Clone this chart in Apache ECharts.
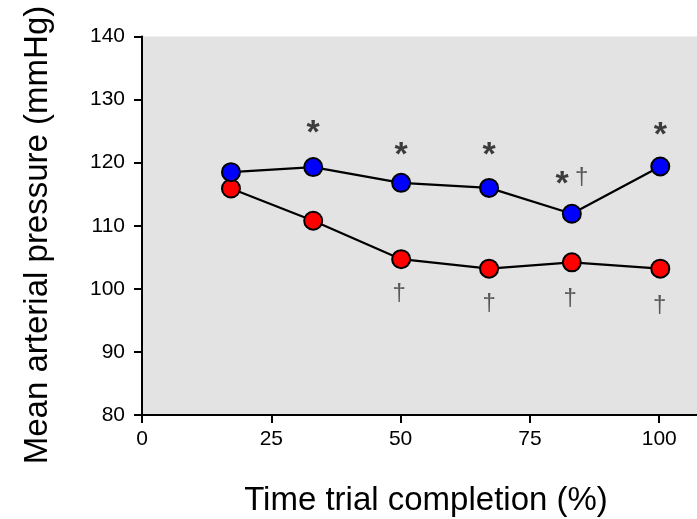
<!DOCTYPE html>
<html>
<head>
<meta charset="utf-8">
<script src="https://cdn.jsdelivr.net/npm/echarts@6/dist/echarts.min.js"></script>
<style>html,body{margin:0;padding:0;background:#fff}#c{width:697px;height:519px}</style>
</head>
<body>
<div id="c"></div>
<script>
// Data
var timePct = [17.2, 33.1, 50.1, 67.1, 83.1, 100.2];
var blueMAP = [118.5, 119.3, 116.8, 116.0, 111.9, 119.4];
var redMAP  = [115.9, 110.8, 104.7, 103.2, 104.2, 103.2];
var xTicks = [0, 25, 50, 75, 100];
var yTicks = [80, 90, 100, 110, 120, 130, 140];
// Significance annotations [x, y, symbol]
var starMarks = [[33.1, 125.5, '*'], [50.1, 122.0, '*'], [67.1, 122.0, '*'], [81.2, 117.4, '*'], [100.2, 125.2, '*']];
var daggerMarks = [[85.0, 117.7, '†'], [49.7, 99.3, '†'], [67.1, 97.7, '†'], [82.8, 98.5, '†'], [100.1, 97.4, '†']];

var chart = echarts.init(document.getElementById('c'));
var font = 'Liberation Sans, Arial, sans-serif';
function pairs(xs, ys){ return xs.map(function(x,i){ return [x, ys[i]]; }); }

chart.setOption({
  animation: false,
  grid: { left: 142, top: 36.5, right: 0, bottom: 104, show: true, backgroundColor: '#e3e3e3', borderWidth: 0 },
  xAxis: {
    type: 'value', min: 0, max: 107.3,
    axisLine: { show: true, lineStyle: { color: '#000', width: 2 } },
    axisTick: { show: true, length: 8, inside: false, lineStyle: { color: '#000', width: 2 }, customValues: xTicks },
    axisLabel: { color: '#000', fontSize: 21, fontFamily: font, margin: 14, customValues: xTicks },
    splitLine: { show: false }
  },
  yAxis: {
    type: 'value', min: 80, max: 140, interval: 10,
    axisLine: { show: true, lineStyle: { color: '#000', width: 2 } },
    axisTick: { show: true, length: 8, lineStyle: { color: '#000', width: 2 }, customValues: yTicks },
    axisLabel: { color: '#000', fontSize: 21, fontFamily: font, margin: 17, customValues: yTicks },
    splitLine: { show: false }
  },
  graphic: [
    { type: 'text', x: 38, y: 235, rotation: Math.PI/2, style: { text: 'Mean arterial pressure (mmHg)', fontSize: 33, fontFamily: font, fill: '#000', align: 'center', verticalAlign: 'middle' } },
    { type: 'text', x: 426, y: 501, style: { text: 'Time trial completion (%)', fontSize: 33, fontFamily: font, fill: '#000', align: 'center', verticalAlign: 'middle' } }
  ],
  series: [
    {
      type: 'line', data: pairs(timePct, redMAP), symbol: 'circle', symbolSize: 18,
      lineStyle: { color: '#000', width: 2.2 },
      itemStyle: { color: '#ff0000', borderColor: '#000', borderWidth: 2 }, z: 3
    },
    {
      type: 'line', data: pairs(timePct, blueMAP), symbol: 'circle', symbolSize: 18,
      lineStyle: { color: '#000', width: 2.2 },
      itemStyle: { color: '#0000ff', borderColor: '#000', borderWidth: 2 }, z: 4
    },
    {
      type: 'scatter', data: starMarks, symbolSize: 0, silent: true, z: 5,
      label: { show: true, position: 'inside', offset: [0, 6], formatter: function(p){ return p.data[2]; }, color: '#111', fontSize: 34, fontWeight: 'bold', fontFamily: font }
    },
    {
      type: 'scatter', data: daggerMarks, symbolSize: 0, silent: true, z: 5,
      label: { show: true, position: 'inside', formatter: function(p){ return p.data[2]; }, color: '#333', fontSize: 24, fontFamily: font }
    }
  ]
});
</script>
</body>
</html>
